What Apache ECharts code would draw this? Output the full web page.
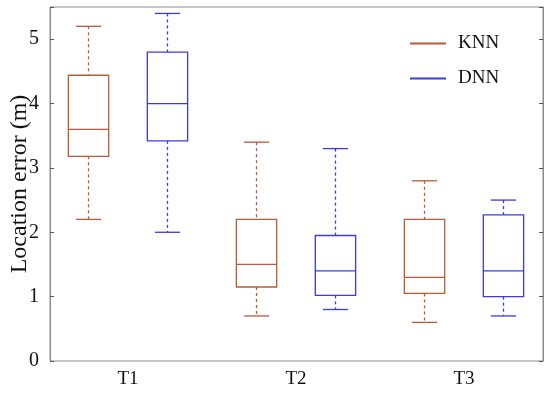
<!DOCTYPE html>
<html>
<head>
<meta charset="utf-8">
<script src="https://cdn.jsdelivr.net/npm/echarts@6/dist/echarts.min.js"></script>
<style>html,body{margin:0;padding:0;background:#fff}#c{width:550px;height:394px}</style>
</head>
<body>
<div id="c"></div>
<script>
const categories = ['T1', 'T2', 'T3'];
// [min, Q1, median, Q3, max]
const knnStats = [
  [2.2, 3.18, 3.6, 4.44, 5.2],
  [0.7, 1.15, 1.5, 2.2, 3.4],
  [0.6, 1.05, 1.3, 2.2, 2.8]
];
const dnnStats = [
  [2.0, 3.42, 4.0, 4.8, 5.4],
  [0.8, 1.02, 1.4, 1.95, 3.3],
  [0.7, 1.0, 1.4, 2.27, 2.5]
];
const yTicks = [0, 1, 2, 3, 4, 5];

const KNN_COLOR = '#bb5a3a';
const DNN_COLOR = '#3a3ae8';
const FONT = '"Liberation Serif", "DejaVu Serif", serif';

function makeRender(side, color) {
  return function (params, api) {
    const i = api.value(0);
    const band = api.size([1, 0])[0];
    const cx = api.coord([i, 0])[0] + side * band * 0.235;
    const bw = band * 0.24;
    const cw = band * 0.15;
    const y = k => api.coord([i, api.value(k)])[1];
    const yMin = y(1), yQ1 = y(2), yMed = y(3), yQ3 = y(4), yMax = y(5);
    const solid = () => ({ stroke: color, lineWidth: 1.3, fill: 'none' });
    const dashed = () => ({ stroke: color, lineWidth: 1.3, lineDash: [3, 3], fill: 'none' });
    const x0 = cx - bw / 2, x1 = cx + bw / 2;
    return {
      type: 'group',
      children: [
        { type: 'line', shape: { x1: cx, y1: yMax, x2: cx, y2: yQ3 }, style: dashed() },
        { type: 'line', shape: { x1: cx, y1: yQ1, x2: cx, y2: yMin }, style: dashed() },
        { type: 'line', shape: { x1: cx - cw / 2, y1: yMax, x2: cx + cw / 2, y2: yMax }, style: solid() },
        { type: 'line', shape: { x1: cx - cw / 2, y1: yMin, x2: cx + cw / 2, y2: yMin }, style: solid() },
        { type: 'rect', shape: { x: x0, y: yQ3, width: bw, height: yQ1 - yQ3 }, style: solid() },
        { type: 'line', shape: { x1: x0, y1: yMed, x2: x1, y2: yMed }, style: solid() }
      ]
    };
  };
}

function toData(stats) {
  return stats.map((s, i) => [i].concat(s));
}

const chart = echarts.init(document.getElementById('c'), null, { renderer: 'canvas' });
const frameColor = '#8c8c8c';
chart.setOption({
  animation: false,
  backgroundColor: '#fff',
  legend: {
    orient: 'vertical',
    left: 405,
    top: 29,
    itemWidth: 36,
    itemHeight: 2,
    itemGap: 16,
    textStyle: { fontFamily: FONT, fontSize: 19, color: '#111', padding: [0, 0, 0, 7] },
    data: [
      { name: 'KNN', icon: 'path://M0 0H36V2H0Z' },
      { name: 'DNN', icon: 'path://M0 0H36V2H0Z' }
    ]
  },
  grid: [
    { left: 50, right: 7, top: 7, bottom: 33, outerBoundsMode: 'none', containLabel: false, show: true, borderColor: frameColor, borderWidth: 1, backgroundColor: 'transparent' },
    { left: 44, right: 2, top: 7, bottom: 33, outerBoundsMode: 'none', containLabel: false }
  ],
  xAxis: [
    { gridIndex: 0, type: 'category', data: categories, show: false },
    {
      gridIndex: 1, type: 'category', data: categories, boundaryGap: true,
      axisLine: { show: false }, axisTick: { show: false },
      axisLabel: { fontFamily: FONT, fontSize: 19, color: '#111', margin: 9 }
    }
  ],
  yAxis: [
    {
      gridIndex: 0, type: 'value', min: 0, max: 5.5, interval: 1,
      axisLine: { show: true, lineStyle: { color: frameColor } },
      axisTick: { show: true, inside: true, length: 4, lineStyle: { color: '#555' } },
      splitLine: { show: false },
      axisLabel: {
        fontFamily: FONT, fontSize: 20, color: '#111', margin: 11,
        formatter: v => (yTicks.indexOf(v) >= 0 ? String(v) : '')
      },
      name: 'Location error (m)',
      nameLocation: 'middle',
      nameRotate: 90,
      nameGap: 18,
      nameMoveOverlap: false,
      nameTextStyle: { fontFamily: FONT, fontSize: 24, color: '#111' }
    },
    {
      gridIndex: 0, type: 'value', position: 'right', min: 0, max: 5.5, interval: 1,
      axisLine: { show: true, lineStyle: { color: frameColor } },
      axisTick: { show: true, inside: true, length: 4, lineStyle: { color: '#555' } },
      axisLabel: { show: false }, splitLine: { show: false }
    },
    { gridIndex: 1, type: 'value', min: 0, max: 5.5, show: false, splitLine: { show: false } }
  ],
  series: [
    {
      name: 'KNN', type: 'custom', xAxisIndex: 1, yAxisIndex: 2,
      itemStyle: { color: KNN_COLOR },
      renderItem: makeRender(-1, KNN_COLOR),
      encode: { x: 0, y: [1, 2, 3, 4, 5] },
      data: toData(knnStats)
    },
    {
      name: 'DNN', type: 'custom', xAxisIndex: 1, yAxisIndex: 2,
      itemStyle: { color: DNN_COLOR },
      renderItem: makeRender(1, DNN_COLOR),
      encode: { x: 0, y: [1, 2, 3, 4, 5] },
      data: toData(dnnStats)
    }
  ]
});
</script>
</body>
</html>
